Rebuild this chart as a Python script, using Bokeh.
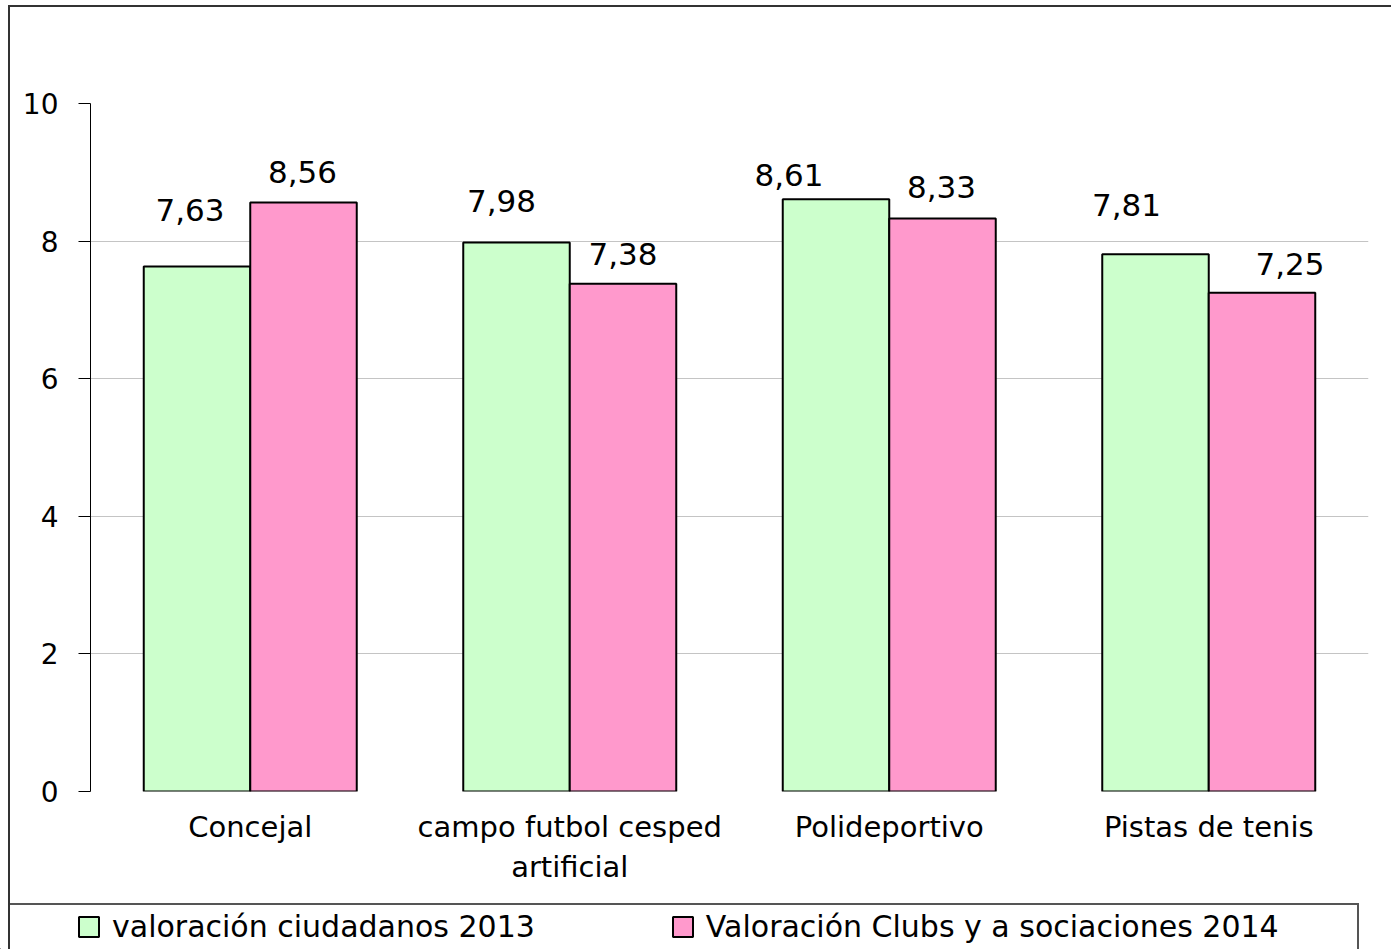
from bokeh.plotting import figure
from bokeh.layouts import column
from bokeh.models import (FactorRange, ColumnDataSource, LabelSet, Legend, LegendItem,
                          FixedTicker, Range1d)
from bokeh.core.properties import value
from bokeh.transform import dodge
from bokeh.embed import file_html
from bokeh.resources import INLINE

# ---- data ----
categories = ["Concejal", "campo futbol cesped\nartificial", "Polideportivo", "Pistas de tenis"]
series_2013 = [7.63, 7.98, 8.61, 7.81]
series_2014 = [8.56, 7.38, 8.33, 7.25]
series_names = ["valoración ciudadanos 2013", "Valoración Clubs y a sociaciones 2014"]
y_ticks = [0, 2, 4, 6, 8, 10]

# ---- label placement styles (pixel offsets, as in the original) ----
lbl_dx_2013 = [-7, -15, -47, -29]
lbl_dy_2013 = [46, 30, 13, 38]
lbl_dx_2014 = [-1, 0, -1, 28]
lbl_dy_2014 = [20, 19, 20, 18]

FONT = "DejaVu Sans"
GREEN = "#CCFFCC"
PINK = "#FF99CC"


def fmt(v):
    return f"{v:.2f}".replace(".", ",")


src1 = ColumnDataSource(dict(cat=categories, val=series_2013,
                             lbl=[fmt(v) for v in series_2013],
                             dx=lbl_dx_2013, dy=lbl_dy_2013))
src2 = ColumnDataSource(dict(cat=categories, val=series_2014,
                             lbl=[fmt(v) for v in series_2014],
                             dx=lbl_dx_2014, dy=lbl_dy_2014))

# ---------------- main chart ----------------
p = figure(x_range=FactorRange(factors=categories, range_padding=0),
           y_range=Range1d(0, 10),
           width=1391, height=903,
           output_backend="svg", toolbar_location=None, tools="",
           min_border_left=90, min_border_right=23,
           min_border_top=103, min_border_bottom=112)
p.frame_align = False

p.background_fill_color = "white"
p.border_fill_color = None
p.outline_line_color = None
# outer chart frame (left and top edges), drawn behind the transparent canvas border
p.styles = {
    "background-color": "white",
    "background-image": "linear-gradient(#333,#333), linear-gradient(#333,#333)",
    "background-size": "2px 2000px, 2000px 2px",
    "background-position": "8px 5px, 8px 5px",
    "background-repeat": "no-repeat",
}

r1 = p.vbar(x=dodge("cat", -1/6, range=p.x_range), top="val", width=1/3, source=src1,
            fill_color=GREEN, line_color="black", line_width=2)
r2 = p.vbar(x=dodge("cat", 1/6, range=p.x_range), top="val", width=1/3, source=src2,
            fill_color=PINK, line_color="black", line_width=2)

for src, off in ((src1, -1/6), (src2, 1/6)):
    labels = LabelSet(x=dodge("cat", off, range=p.x_range), y="val", text="lbl",
                      x_offset="dx", y_offset="dy", source=src,
                      text_align="center", text_baseline="alphabetic",
                      text_font=value(FONT), text_font_size=value("31px"),
                      text_color="black")
    p.add_layout(labels)

# y axis
p.yaxis.ticker = FixedTicker(ticks=y_ticks)
p.yaxis.minor_tick_line_color = None
p.yaxis.major_tick_out = 12
p.yaxis.major_tick_in = 0
p.yaxis.major_tick_line_color = "black"
p.yaxis.axis_line_color = "black"
p.yaxis.major_label_text_font = FONT
p.yaxis.major_label_text_font_size = "28px"
p.yaxis.major_label_text_color = "black"
p.yaxis.major_label_standoff = 20

# x axis
p.xaxis.axis_line_color = None
p.xaxis.major_tick_line_color = None
p.xaxis.minor_tick_line_color = None
p.xaxis.major_tick_out = 0
p.xaxis.major_tick_in = 0
p.xaxis.major_label_text_font = FONT
p.xaxis.major_label_text_font_size = "29px"
p.xaxis.major_label_text_color = "black"
p.xaxis.major_label_standoff = 18

p.xgrid.grid_line_color = None
p.ygrid.grid_line_color = "#c4c4c4"
p.ygrid.grid_line_width = 1

# ---------------- legend strip ----------------
leg = figure(width=1391, height=46, output_backend="svg", toolbar_location=None, tools="",
             x_range=Range1d(1, 2), y_range=Range1d(1, 2),
             x_axis_location=None, y_axis_location=None,
             min_border_left=0, min_border_right=0, min_border_top=0, min_border_bottom=0)
leg.frame_align = False
leg.grid.grid_line_color = None
leg.outline_line_color = None
leg.background_fill_color = None
leg.border_fill_color = None
# legend frame (top, left and right edges)
leg.styles = {
    "background-color": "white",
    "background-image": ("linear-gradient(#333,#333), linear-gradient(#555,#555), "
                         "linear-gradient(#555,#555)"),
    "background-size": "2px 200px, 1350px 2px, 2px 200px",
    "background-position": "8px 0px, 8px 0px, 1357px 0px",
    "background-repeat": "no-repeat",
}

# legend-swatch renderers: one zero-height bar each, outside the strip's visible range
swatch = dict(x=[0], top=[0])
g1 = leg.vbar(x="x", top="top", width=0.1, source=ColumnDataSource(swatch),
              fill_color=GREEN, line_color="black", line_width=2)
g2 = leg.vbar(x="x", top="top", width=0.1, source=ColumnDataSource(dict(swatch)),
              fill_color=PINK, line_color="black", line_width=2)

legend = Legend(items=[LegendItem(label=series_names[0], renderers=[g1]),
                       LegendItem(label=series_names[1], renderers=[g2])],
                location=(76, 5), orientation="horizontal",
                padding=10, spacing=135, label_standoff=11, margin=0,
                glyph_width=25, glyph_height=25, label_height=25,
                border_line_color=None, background_fill_alpha=0,
                label_text_font=FONT, label_text_font_size="30px",
                label_text_color="black")
leg.add_layout(legend)

layout = column(p, leg, spacing=0)

html = file_html(layout, INLINE, title="chart")
with open("out.html", "w", encoding="utf-8") as f:
    f.write(html)
